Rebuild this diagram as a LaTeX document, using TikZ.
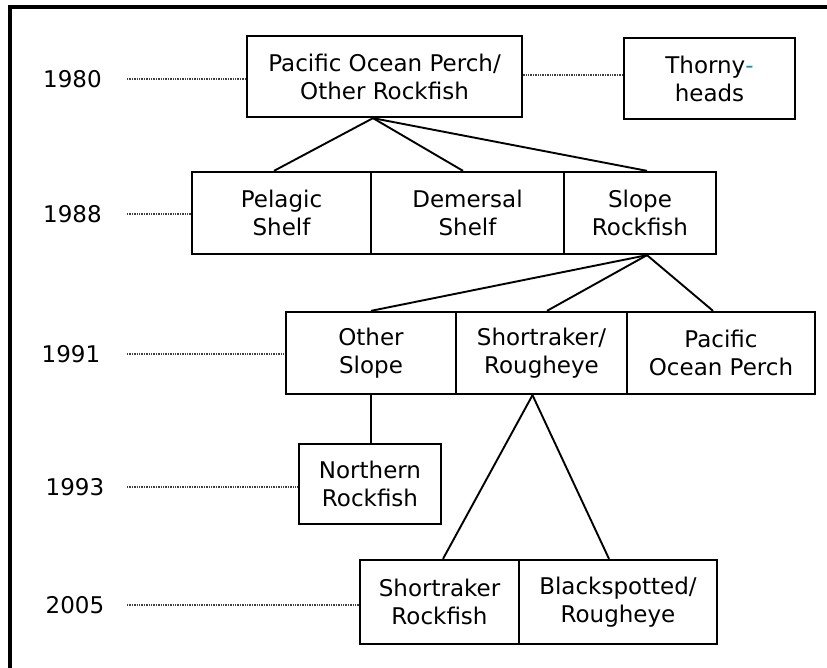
\documentclass[tikz,border=0pt]{standalone}
\usepackage{fontspec}
\setmainfont{DejaVu Sans}
\usepackage{xcolor}
\usepackage{tikz}
\usetikzlibrary{calc}
\definecolor{hyphenteal}{RGB}{20,150,160}

\begin{document}
\begin{tikzpicture}[x=1pt,y=-1pt,
  box/.style={draw,line width=2.3pt,inner sep=0pt,align=center,font=\fontsize{23pt}{28pt}\selectfont},
  year/.style={font=\fontsize{23pt}{28pt}\selectfont},
  link/.style={line width=1.9pt},
  guide/.style={line width=1.1pt,black!75,dash pattern=on 1.4pt off 1pt}]
\useasboundingbox (0,0) rectangle (827,668);
\draw[line width=3.2pt] (10,668) -- (10,7) -- (827,7); % frame
% boxes
\node[box,minimum width=275pt,minimum height=81pt] (pop) at (384.5,76.5) {Pacific Ocean Perch/\\Other Rockfish};
\node[box,minimum width=171pt,minimum height=81pt] (thorny) at (709.5,78.5) {Thorny\textcolor{hyphenteal}{-}\\heads};
\node[box,minimum width=179pt,minimum height=82pt] (pelagic) at (281.5,213) {Pelagic\\Shelf};
\node[box,minimum width=193pt,minimum height=82pt] (demersal) at (467.5,213) {Demersal\\Shelf};
\node[box,minimum width=152pt,minimum height=82pt] (slope) at (640,213) {Slope\\Rockfish};
\node[box,minimum width=170pt,minimum height=82pt] (othslope) at (371,353) {Other\\Slope};
\node[box,minimum width=171pt,minimum height=82pt] (shrough) at (541.5,353) {Shortraker/\\Rougheye};
\node[box,minimum width=188pt,minimum height=82pt] (pop91) at (721,353) {Pacific\\Ocean Perch};
\node[box,minimum width=142pt,minimum height=80pt] (northern) at (370,484) {Northern\\Rockfish};
\node[box,minimum width=159pt,minimum height=84pt] (shortraker) at (439.5,602) {Shortraker\\Rockfish};
\node[box,minimum width=198pt,minimum height=84pt] (blackspot) at (618,602) {Blackspotted/\\Rougheye};
% years
\node[year] (y80) at (72.5,79) {1980};
\node[year] (y88) at (72.5,214) {1988};
\node[year] (y91) at (71,354) {1991};
\node[year] (y93) at (75,487) {1993};
\node[year] (y05) at (75,605) {2005};
\coordinate (g80) at (127,79);
\coordinate (g88) at (127,214);
\coordinate (g91) at (127,354);
\coordinate (g93) at (127,487);
\coordinate (g05) at (127,605);
\draw[guide] (g80) -- (g80 -| pop.west);
\draw[guide] (g88) -- (g88 -| pelagic.west);
\draw[guide] (g91) -- (g91 -| othslope.west);
\draw[guide] (g93) -- (g93 -| northern.west);
\draw[guide] (g05) -- (g05 -| shortraker.west);
\draw[guide] ($(pop.east)+(0,-1.5)$) -- ($(pop.east -| thorny.west)+(0,-1.5)$);
% links
\coordinate (popfoot) at ($(pop.south)+(-11.5,0)$);
\coordinate (slopefoot) at ($(slope.south)+(7,0)$);
\coordinate (shfoot) at ($(shrough.south)+(-9,0)$);
\draw[link] (popfoot) -- ($(pelagic.north)+(-7.5,0)$);
\draw[link] (popfoot) -- ($(demersal.north)+(-4.5,0)$);
\draw[link] (popfoot) -- ($(slope.north)+(7,0)$);
\draw[link] (slopefoot) -- (othslope.north);
\draw[link] (slopefoot) -- ($(shrough.north)+(5.5,0)$);
\draw[link] (slopefoot) -- ($(pop91.north)+(-8,0)$);
\draw[link] (othslope.south) -- (othslope.south |- northern.north);
\draw[link] (shfoot) -- ($(shortraker.north)+(3.5,0)$);
\draw[link] (shfoot) -- ($(blackspot.north)+(-9,0)$);
\end{tikzpicture}
\end{document}
